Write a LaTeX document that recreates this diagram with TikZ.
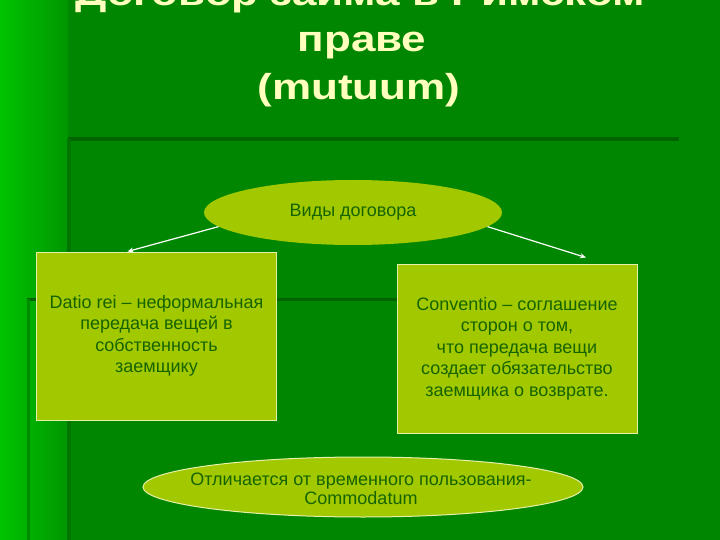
\documentclass[tikz,border=0pt]{standalone}
\usepackage{fontspec}
\setmainfont{Liberation Sans}
\usetikzlibrary{shapes.geometric,arrows.meta}
\pgfdeclarelayer{bg}
\pgfsetlayers{bg,main}
\definecolor{slidegreen}{RGB}{0,134,0}
\definecolor{lightgreen}{RGB}{0,195,0}
\definecolor{midgreen}{RGB}{0,150,0}
\definecolor{rulegreen}{RGB}{0,100,0}
\definecolor{softrule}{RGB}{0,118,0}
\definecolor{bandrule}{RGB}{0,140,0}
\definecolor{boxfill}{RGB}{162,200,0}
\definecolor{boxtext}{RGB}{22,100,0}
\definecolor{titlecream}{RGB}{255,255,190}
\definecolor{edgecream}{RGB}{230,240,170}
\newcommand{\titlestretch}[1]{\scalebox{1}[0.82]{#1}}
\tikzset{
    termbox/.style={rectangle, draw=edgecream, line width=1pt, fill=boxfill, text=boxtext,
        font=\fontsize{18}{21.5}\selectfont, align=center, inner sep=0pt},
    termoval/.style={ellipse, fill=boxfill, inner sep=0pt},
    termtext/.style={text=boxtext, font=\fontsize{18}{19}\selectfont, align=center, inner sep=0pt},
    titleline/.style={text=titlecream, font=\fontsize{44}{49}\selectfont\bfseries, inner sep=0pt, anchor=base},
    arrowline/.style={draw=white, line width=1.2pt, -{Stealth[length=6pt,width=5pt]}}
}

\begin{document}
\begin{tikzpicture}[x=1pt, y=-1pt]
    \useasboundingbox (0,0) rectangle (720,540);

    \begin{pgfonlayer}{bg}
        \fill[slidegreen] (0,0) rectangle (720,540);
        \shade[left color=lightgreen, right color=midgreen] (0,0) rectangle (68,540);
        \draw[rulegreen, line width=4pt] (68,139) -- (679,139);
        \draw[softrule, line width=4pt] (69,139) -- (69,540);
        \draw[rulegreen, line width=3pt] (27,299) -- (400,299);
        \draw[bandrule, line width=3pt] (28,299) -- (28,540);
    \end{pgfonlayer}

    \node (title1) [titleline] at (360,6) {\titlestretch{Договор займа в Римском}};
    \node (title2) [titleline] at (362,51.7) {\titlestretch{праве}};
    \node (title3) [titleline] at (359,99.3) {\titlestretch{(mutuum)}};

    \node (vidy) [termoval, minimum width=298, minimum height=65] at (353,212.5) {};
    \node (vidytext) [termtext] at (vidy.center) {Виды договора};

    \node (datio) [termbox, minimum width=240, minimum height=168] at (156.5,336)
        {Datio rei -- неформальная\\передача вещей в\\собственность\\заемщику};
    \node (conv) [termbox, minimum width=240, minimum height=169] at (517,348.5)
        {Conventio -- соглашение\\сторон о том,\\что передача вещи\\создает обязательство\\заемщика о возврате.};

    \node (commod) [termoval, draw=edgecream, line width=1pt, minimum width=440, minimum height=60] at (363,487) {};
    \node (commodtext) [termtext] at (361,489) {Отличается от временного пользования-\\Commodatum};

    \draw[arrowline] (vidy.-174) -- ([xshift=-29pt]datio.north);
    \draw[arrowline] (vidy.-6) -- ([xshift=69pt,yshift=6pt]conv.north);
\end{tikzpicture}
\end{document}
